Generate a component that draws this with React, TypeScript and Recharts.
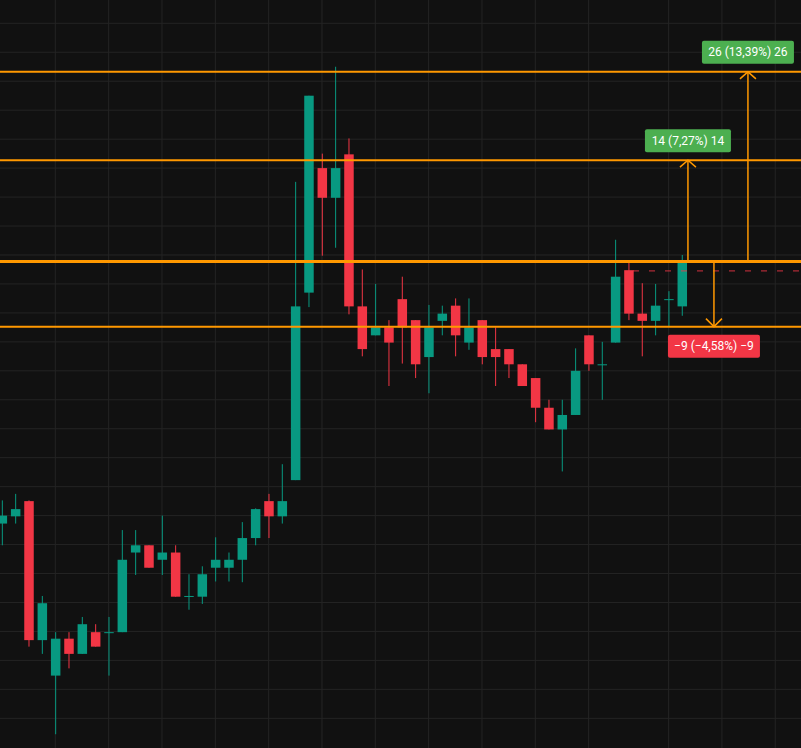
import { ComposedChart, Bar, XAxis, YAxis, CartesianGrid, ReferenceLine, ReferenceDot } from 'recharts';

// OHLC per bar
const open = [
  158.9, 159.9, 162.0, 142.8, 137.9, 143.0, 140.9, 143.9, 143.9, 143.9,
  154.9, 155.9, 153.9, 154.9, 148.9, 148.8, 152.8, 152.8, 153.9, 156.9,
  162.0, 159.9, 164.9, 190.8, 208.0, 203.9, 209.9, 188.9, 184.9, 186.0,
  189.9, 187.0, 181.9, 186.9, 189.0, 183.9, 187.0, 183.0, 183.0, 180.9,
  179.0, 174.9, 171.9, 173.9, 184.9, 180.9, 183.9, 193.9, 187.9, 186.9,
  189.9, 188.9,
];
const high = [
  162.1, 163.0, 162.1, 148.9, 143.9, 143.9, 146.0, 145.0, 146.0, 158.0,
  158.0, 155.9, 160.0, 155.9, 151.9, 153.0, 157.0, 154.9, 159.1, 161.0,
  163.0, 167.1, 206.1, 218.0, 210.0, 222.0, 212.1, 194.0, 192.0, 187.0,
  193.0, 187.0, 189.1, 189.0, 190.0, 190.0, 187.0, 186.0, 183.0, 180.9,
  179.0, 176.0, 176.0, 183.1, 184.9, 184.0, 198.1, 194.9, 192.1, 192.0,
  191.0, 196.0,
];
const low = [
  155.9, 158.9, 141.9, 140.9, 129.8, 138.9, 140.9, 141.9, 137.9, 143.9,
  151.8, 152.8, 151.8, 148.8, 147.0, 147.8, 150.9, 150.9, 150.8, 155.9,
  156.9, 158.9, 164.9, 188.8, 195.9, 197.0, 187.8, 182.0, 184.9, 177.9,
  181.0, 179.0, 176.9, 184.9, 182.0, 182.9, 180.9, 177.9, 179.0, 177.9,
  172.9, 171.9, 166.1, 173.9, 180.0, 176.0, 183.9, 187.0, 182.0, 184.9,
  186.1, 187.6,
];
const close = [
  160.0, 160.9, 142.8, 147.9, 143.0, 140.9, 145.0, 141.9, 143.9, 153.9,
  155.9, 152.8, 154.9, 148.8, 148.9, 151.9, 153.9, 153.9, 156.9, 160.9,
  159.9, 162.0, 188.9, 218.0, 203.9, 208.0, 188.9, 183.0, 186.0, 183.9,
  186.0, 180.9, 186.0, 187.9, 184.9, 186.0, 181.9, 181.9, 180.9, 177.9,
  174.9, 171.9, 173.9, 180.0, 180.9, 180.9, 193.0, 187.9, 186.9, 189.0,
  189.9, 194.9,
];

// grid
const priceTicks = [132, 136, 140, 144, 148, 152, 156, 160, 164, 168, 172, 176, 180, 184, 188, 192, 196, 200, 204, 208, 212, 216, 220, 224, 228];
const timeTicks = [0, 4, 8, 12, 16, 20, 24, 28, 32, 36, 40, 44, 50, 54, 58];

// drawn levels
const baseLevel = 195.1;
const lastPrice = 193.8;
const measureBar = [51.45, 55.95, 53.4];
const measureTo = [209.1, 221.3, 186.1];
const measureText = ['14 (7,27%) 14', '26 (13,39%) 26', '−9 (−4,58%) −9'];

const UP = '#089981';
const DOWN = '#f23645';
const ORANGE = '#ff9800';

const candles = open.map((o, i) => ({ i, o, h: high[i], l: low[i], c: close[i] }));

function Candle(props: any) {
  const { x, y, width, height, payload } = props;
  const { o, h, l, c } = payload;
  const color = c >= o ? UP : DOWN;
  const cx = x + width / 2;
  const top0 = height >= 0 ? y : y + height;
  const hgt = Math.abs(height);
  const per = h - l > 0 ? hgt / (h - l) : 0;
  const yOf = (v: number) => top0 + (h - v) * per;
  const bTop = yOf(Math.max(o, c));
  const bBot = yOf(Math.min(o, c));
  const bw = 9.5;
  return (
    <g>
      <line x1={cx} x2={cx} y1={yOf(h)} y2={yOf(l)} stroke={color} strokeWidth={1} />
      <rect x={cx - bw / 2} y={bTop} width={bw} height={Math.max(bBot - bTop, 1)} fill={color} />
    </g>
  );
}

function Head({ cx, cy, down }: any) {
  const d = down
    ? `M${cx - 8},${cy - 8} L${cx},${cy} L${cx + 8},${cy - 8}`
    : `M${cx - 8},${cy + 7} L${cx},${cy} L${cx + 8},${cy + 7}`;
  return <path d={d} stroke={ORANGE} strokeWidth={1.5} fill="none" />;
}

function Tag({ cx, cy, down, text }: any) {
  const w = text.length * 6 + 8;
  const h = 23;
  const top = down ? cy + 8 : cy - 8 - h;
  return (
    <g>
      <rect x={cx - w / 2} y={top} width={w} height={h} rx={2} fill={down ? DOWN : '#4caf50'} />
      <text
        x={cx}
        y={top + h / 2 + 4}
        textAnchor="middle"
        fill="#ffffff"
        fontSize={12}
        fontFamily="Roboto, sans-serif"
      >
        {text}
      </text>
    </g>
  );
}

export default function App() {
  return (
    <div style={{ position: 'fixed', left: 0, top: 0, width: 801, height: 748, background: '#111111', overflow: 'hidden' }}>
      <ComposedChart width={801} height={748} data={candles} margin={{ top: 0, right: 0, bottom: 0, left: 0 }}>
        <CartesianGrid stroke="#242424" horizontalValues={priceTicks} verticalValues={timeTicks} />
        <XAxis dataKey="i" type="number" domain={[-0.15, 59.93]} allowDataOverflow hide />
        <YAxis type="number" domain={[127.9, 231.22]} allowDataOverflow hide />
        <ReferenceLine
          segment={[{ x: 47.33, y: lastPrice }, { x: 59.93, y: lastPrice }]}
          stroke={DOWN}
          strokeOpacity={0.85}
          strokeDasharray="6 10"
        />
        <Bar
          dataKey={(d: any) => [d.l, d.h]}
          barSize={10}
          shape={Candle}
          isAnimationActive={false}
        />
        {measureTo.map((v) => (
          <ReferenceLine key={'lv' + v} y={v} stroke={ORANGE} strokeWidth={2} />
        ))}
        <ReferenceLine y={baseLevel} stroke={ORANGE} strokeWidth={3} />
        {measureBar.map((b, k) => (
          <ReferenceLine
            key={'seg' + k}
            segment={[{ x: b, y: baseLevel }, { x: b, y: measureTo[k] }]}
            stroke={ORANGE}
            strokeWidth={1.5}
          />
        ))}
        {measureBar.map((b, k) => (
          <ReferenceDot
            key={'hd' + k}
            x={b}
            y={measureTo[k]}
            shape={(p: any) => <Head cx={p.cx} cy={p.cy} down={measureTo[k] < baseLevel} />}
          />
        ))}
        {measureBar.map((b, k) => (
          <ReferenceDot
            key={'tg' + k}
            x={b}
            y={measureTo[k]}
            shape={(p: any) => <Tag cx={p.cx} cy={p.cy} down={measureTo[k] < baseLevel} text={measureText[k]} />}
          />
        ))}
      </ComposedChart>
    </div>
  );
}
